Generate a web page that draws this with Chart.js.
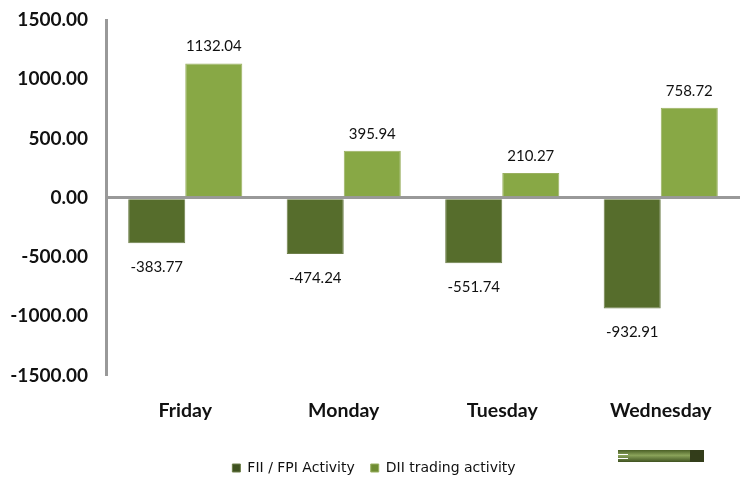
<!DOCTYPE html>
<html>
<head>
<meta charset="utf-8">
<script src="https://cdn.jsdelivr.net/npm/chart.js@4.4.1/dist/chart.umd.min.js"></script>
<style>
  html, body { margin: 0; padding: 0; background: #fff; }
  #wrap { width: 746px; height: 478px; }
</style>
</head>
<body>
<div id="wrap"><canvas id="chart" width="746" height="478"></canvas></div>
<script>
//------ Data ------//
const days = ['Friday', 'Monday', 'Tuesday', 'Wednesday'];
const fiiValues = [-383.77, -474.24, -551.74, -932.91];
const diiValues = [1132.04, 395.94, 210.27, 758.72];
const yTicks = [-1500, -1000, -500, 0, 500, 1000, 1500];

const darkGreen = '#566d2c';
const lightGreen = '#88a845';

// bevelled look: lighter centre, darker edges
function barFill(ctx, base, edge) {
  const chart = ctx.chart;
  const el = ctx.element;
  if (!el || !chart.chartArea || el.x === undefined) return base;
  const half = el.width / 2;
  const g = chart.ctx.createLinearGradient(el.x - half, 0, el.x + half, 0);
  g.addColorStop(0, edge);
  g.addColorStop(0.1, base);
  g.addColorStop(0.9, base);
  g.addColorStop(1, edge);
  return g;
}

//------ Value labels ------//
const valueLabels = {
  id: 'valueLabels',
  afterDatasetsDraw(chart) {
    const c = chart.ctx;
    c.save();
    c.font = '15px Lato';
    c.fillStyle = '#111';
    c.textAlign = 'center';
    c.textBaseline = 'middle';
    chart.data.datasets.forEach((ds, i) => {
      chart.getDatasetMeta(i).data.forEach((bar, j) => {
        const v = ds.data[j];
        const y = v >= 0 ? bar.y - 17 : bar.y + 24;
        c.fillText(v.toFixed(2), bar.x, y);
      });
    });
    c.restore();
  }
};

// little bar-shaped mark at the bottom right
const cornerMark = {
  id: 'cornerMark',
  afterDraw(chart) {
    const c = chart.ctx;
    c.save();
    const g = c.createLinearGradient(0, 450, 0, 462);
    g.addColorStop(0, '#4a5f25');
    g.addColorStop(0.45, '#8aa35a');
    g.addColorStop(1, '#3f5220');
    c.fillStyle = g;
    c.fillRect(618, 450, 74, 12);
    c.fillStyle = '#333d1a';
    c.fillRect(690, 450, 14, 12);
    c.fillStyle = '#fff';
    c.fillRect(618, 454, 10, 1);
    c.fillRect(618, 458, 10, 1);
    c.restore();
  }
};

const ctx = document.getElementById('chart');

new Chart(ctx, {
  type: 'bar',
  data: {
    labels: days,
    datasets: [{
      label: 'FII / FPI Activity',
      data: fiiValues,
      backgroundColor: (c) => barFill(c, darkGreen, '#3f5220'),
      borderColor: '#6e7f4a',
      borderWidth: 1,
      categoryPercentage: 0.72,
      barPercentage: 1.0
    }, {
      label: 'DII trading activity',
      data: diiValues,
      backgroundColor: (c) => barFill(c, lightGreen, '#6f8c32'),
      borderColor: '#9ab060',
      borderWidth: 1,
      categoryPercentage: 0.72,
      barPercentage: 1.0
    }]
  },
  options: {
    responsive: false,
    animation: false,
    layout: { padding: { top: 20, right: 6, left: 8, bottom: -7 } },
    scales: {
      y: {
        min: -1500,
        max: 1500,
        afterBuildTicks: (axis) => { axis.ticks = yTicks.map(v => ({ value: v })); },
        afterFit: (axis) => {
          axis.width = 98;
          axis.paddingTop = 0;
          axis.paddingBottom = 0;
        },
        ticks: {
          padding: 18,
          color: '#111',
          font: { family: 'Lato', size: 19, weight: 'bold' },
          callback: (v) => Number(v).toFixed(2)
        },
        grid: {
          drawTicks: false,
          lineWidth: (c) => (c.tick && c.tick.value === 0 ? 3 : 0),
          color: (c) => (c.tick && c.tick.value === 0 ? '#999' : 'rgba(0,0,0,0)')
        },
        border: { display: true, color: '#999', width: 3 }
      },
      x: {
        ticks: {
          padding: 23,
          color: '#111',
          font: { family: 'Lato', size: 19.5, weight: 'bold' }
        },
        grid: { display: false, drawTicks: false },
        border: { display: false }
      }
    },
    plugins: {
      legend: {
        position: 'bottom',
        labels: {
          boxWidth: 8,
          boxHeight: 8,
          padding: 16,
          color: '#111',
          font: { family: 'DejaVu Sans', size: 14 }
        }
      },
      tooltip: { enabled: false }
    }
  },
  plugins: [valueLabels, cornerMark]
});
</script>
</body>
</html>
